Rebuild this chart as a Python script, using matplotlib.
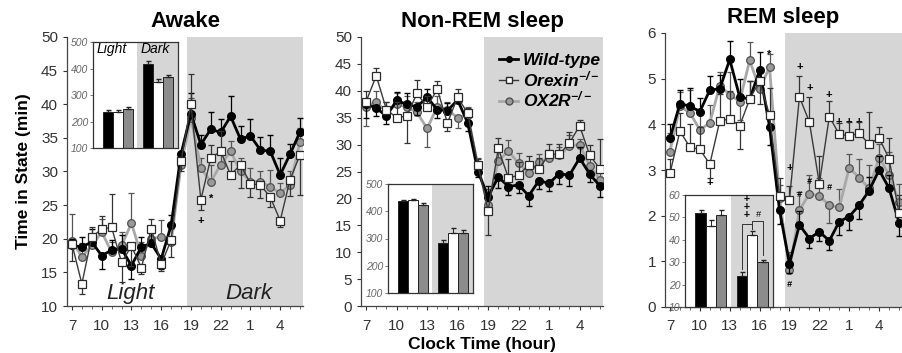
import numpy as np
import matplotlib.pyplot as plt
from matplotlib.lines import Line2D

plt.rcParams['font.family'] = ['Liberation Sans', 'DejaVu Sans']
plt.rcParams['mathtext.fontset'] = 'custom'
plt.rcParams['mathtext.rm'] = 'Liberation Sans:bold:italic'
plt.rcParams['mathtext.it'] = 'Liberation Sans:bold:italic'

# ================= DATA ================= #
HOURS = [7, 8, 9, 10, 11, 12, 13, 14, 15, 16, 17, 18, 19, 20, 21, 22, 23, 0, 1, 2, 3, 4, 5, 6]
TICK_HOURS = [7, 10, 13, 16, 19, 22, 1, 4]

# Awake (min per hour); error sign: + = bar drawn up, - = bar drawn down
awake_wt = [19.0, 18.8, 19.5, 17.5, 18.3, 18.5, 16.0, 18.8, 19.3, 17.0, 22.0, 32.6,
            38.6, 34.0, 36.3, 35.8, 38.2, 34.8, 35.3, 33.2, 33.0, 29.5, 32.6, 35.9]
awake_wt_err = [1, 1.5, 2, -2, 1.5, 2, -2, 1.5, 1.5, -1.5, 1.5, -1,
                3, 1.5, 2.5, 2, 3, 2, 2.5, 2, 2.5, 2.5, 1.5, 2]
awake_ox = [19.2, 13.3, 20.3, 21.4, 21.7, 16.5, 18.9, 15.7, 21.5, 16.2, 19.8, 31.5,
            40.0, 25.8, 32.0, 33.0, 29.5, 31.0, 28.2, 28.0, 26.2, 22.7, 28.8, 32.5]
awake_ox_err = [-2.5, -1.5, 1.5, 2, 5, -3, -3, -1, 1.5, -1, -2.5, -1.5,
                4.5, -1.5, 2, 3, 2, -3.5, -2, -2, -1.5, -1, -2.5, -6]
awake_ox2r = [19.7, 17.3, 19.0, 21.0, 18.0, 19.0, 22.3, 17.5, 20.0, 20.3, 19.5, 31.0,
              38.0, 30.5, 28.5, 31.0, 33.0, 30.0, 28.5, 28.5, 27.7, 26.8, 28.0, 34.4]
awake_ox2r_err = [4, 2, 1.5, 2, 1.5, 2, 4.5, 2, 1.5, 2.5, 2, 1.5,
                  3, 1.5, 2.5, 2, 1.5, 2, 2, 1.5, 2.5, 1.5, 2, 2]

nrem_wt = [37.5, 36.8, 35.3, 38.2, 37.5, 37.0, 38.8, 36.5, 36.3, 38.3, 34.0, 25.0,
           20.3, 24.0, 22.2, 22.5, 20.5, 23.3, 22.8, 24.6, 24.3, 27.5, 24.5, 22.3]
nrem_wt_err = [-2.5, -1.5, -1.5, 1.5, 2, -1.5, 1.5, -1.5, 1.5, 1, -1.5, -1,
               2, -2, -1.5, -1.5, -2, -1.5, -1.5, -2, -2, 2, -1.5, -2]
nrem_ox = [38.0, 42.8, 36.5, 35.0, 35.3, 39.5, 37.0, 40.3, 34.0, 38.8, 35.8, 26.3,
           17.7, 29.3, 23.8, 24.3, 26.3, 25.5, 28.2, 28.2, 30.3, 33.5, 28.0, 25.5]
nrem_ox_err = [2, 1.5, 1.5, 3, -5, 2.5, 2, 1.5, -1.5, 1.5, 1, 1,
               -4.5, 2, 3.5, 2.5, 1.5, 2, 2, 2, 2, 1, 2, 5.5]
nrem_ox2r = [37.0, 38.0, 36.0, 37.5, 37.0, 36.0, 33.0, 37.0, 36.5, 35.0, 35.5, 26.0,
             18.8, 27.0, 28.8, 26.5, 24.7, 26.8, 27.5, 28.0, 29.8, 30.0, 26.0, 23.5]
nrem_ox2r_err = [-3.5, 2, 2, 2, 2, 2, -3.5, 2, 1.5, -2, 1.5, 1.5,
                 3, 3, 2, 2, 2, 1.5, 1.5, 1.5, 2, 1, 2, 2]

rem_wt = [3.70, 4.45, 4.40, 4.28, 4.75, 4.78, 5.42, 4.60, 4.55, 5.18, 3.95, 2.12,
          0.95, 1.80, 1.50, 1.65, 1.45, 1.87, 1.98, 2.23, 2.55, 3.00, 2.60, 1.85]
rem_wt_err = [0.3, 0.3, 0.4, 0.3, 0.3, 0.3, 0.4, 0.4, 0.4, 0.4, -0.4, -0.3,
              -0.2, 0.3, -0.2, -0.2, -0.2, -0.3, -0.3, -0.3, 0.3, 0.3, 0.3, -0.3]
rem_ox = [2.93, 3.85, 3.50, 3.45, 3.13, 4.07, 4.12, 3.97, 4.55, 4.95, 4.20, 2.43,
          2.35, 4.60, 4.05, 2.70, 4.17, 3.78, 3.75, 3.80, 3.57, 3.70, 3.25, 2.05]
rem_ox_err = [0.3, 0.4, 0.5, 0.5, -0.3, 0.6, 0.6, -0.5, 0.4, -0.5, 0.6, 0.4,
              0.3, 0.45, 0.55, 0.6, 0.35, 0.25, 0.3, 0.25, 0.7, 0.25, 0.45, 0.4]
rem_ox2r = [3.40, 4.40, 4.25, 3.88, 4.03, 4.85, 4.65, 4.50, 5.40, 4.78, 5.25, 2.38,
            0.80, 2.12, 2.48, 2.43, 2.23, 2.18, 3.05, 2.83, 2.60, 3.27, 2.90, 2.30]
rem_ox2r_err = [0.4, 0.3, 0.5, 0.4, 0.4, 0.3, 0.5, -0.4, 0.4, 0.4, 0.3, 0.3,
                0.4, 0.4, 0.4, 0.4, -0.4, 0.4, 0.3, 0.4, 0.5, 0.3, 0.5, 0.4]

# insets: total time (min) in light / dark phase; order WT, Orexin-/-, OX2R-/-
awake_light = [237, 237, 246]
awake_light_err = [5, 5, 7]
awake_dark = [416, 350, 367]
awake_dark_err = [12, 12, 9]
nrem_light = [436, 440, 423]
nrem_light_err = [5, 6, 6]
nrem_dark = [282, 322, 322]
nrem_dark_err = [12, 18, 10]
rem_light = [52, 46, 51]
rem_light_err = [1.5, 3, 2.5]
rem_dark = [24, 42, 30]
rem_dark_err = [1.5, 2, 1]

# significance marks: (index, y, symbol)
awake_marks = [(13, 22.6, '+'), (14, 26.0, '*')]
rem_marks = [(4, 2.72, '+'), (10, 5.52, '*'), (12, 3.05, '+'), (13, 5.25, '+'),
             (14, 4.80, '+'), (16, 4.65, '+'), (17, 4.05, '+'), (18, 4.05, '+'),
             (19, 4.05, '+'), (12, 0.50, '#'), (13, 2.47, '#'), (14, 2.75, '#'),
             (16, 2.62, '#')]

# ================= STYLE ================= #
SHADE = '#d6d6d6'
W, H = 902, 353
x = np.arange(len(HOURS))


def px(l, t, r, b):
    return [l / W, 1 - b / H, (r - l) / W, (b - t) / H]


def split_err(err):
    err = np.array(err, dtype=float)
    return [np.where(err < 0, -err, 0), np.where(err > 0, err, 0)]


def draw_series(ax, wt, wte, ox, oxe, o2, o2e, cap):
    ax.errorbar(x, o2, yerr=split_err(o2e), color='#a8a8a8', lw=2.0, marker='o',
                ms=5.5, mfc='#9a9a9a', mec='#505050', mew=0.9, ecolor='#555555',
                elinewidth=0.9, capsize=cap, zorder=3)
    ax.errorbar(x, wt, yerr=split_err(wte), color='black', lw=2.0, marker='o',
                ms=5.5, mfc='black', mec='black', ecolor='black',
                elinewidth=0.9, capsize=cap, zorder=4)
    ax.errorbar(x, ox, yerr=split_err(oxe), color='#3a3a3a', lw=1.0, marker='s',
                ms=5.5, mfc='white', mec='#2a2a2a', mew=0.9, ecolor='#333333',
                elinewidth=0.9, capsize=cap, zorder=5)


def style_main(ax, ylim, yticks):
    ax.axvspan(11.6, 30, color=SHADE, lw=0, zorder=0)
    ax.set_xlim(-0.5, 23.3)
    ax.set_ylim(*ylim)
    ax.set_yticks(yticks)
    ticks = [i for i, h in enumerate(HOURS) if h in TICK_HOURS]
    ax.set_xticks(ticks)
    ax.set_xticklabels([str(HOURS[i]) for i in ticks])
    ax.set_xticks(x, minor=True)
    ax.tick_params(axis='both', labelsize=11, colors='#333333', length=3, width=0.8)
    ax.tick_params(axis='x', which='minor', length=2, width=0.6, colors='#555555')
    ax.tick_params(axis='x', pad=6)
    for s in ['top', 'right']:
        ax.spines[s].set_visible(False)
    for s in ['left', 'bottom']:
        ax.spines[s].set_color('#444444')
        ax.spines[s].set_linewidth(0.9)


def draw_inset(rect, light, lerr, dark, derr, ylim, yticks):
    ia = fig.add_axes(rect)
    ia.set_facecolor('white')
    ia.axvspan(4.4, 10, color=SHADE, lw=0, zorder=0)
    cols = ['black', 'white', '#8c8c8c']
    for j in range(3):
        ia.bar(1.5 + j, light[j], 1.0, bottom=0, color=cols[j], edgecolor='#222222',
               lw=0.7, zorder=2)
        ia.bar(5.5 + j, dark[j], 1.0, bottom=0, color=cols[j], edgecolor='#222222',
               lw=0.7, zorder=2)
        ia.errorbar(1.5 + j, light[j], yerr=[[0], [lerr[j]]], color='#222222',
                    elinewidth=0.7, capsize=1.8, zorder=3)
        ia.errorbar(5.5 + j, dark[j], yerr=[[0], [derr[j]]], color='#222222',
                    elinewidth=0.7, capsize=1.8, zorder=3)
    ia.set_xlim(0, 8.5)
    ia.set_ylim(*ylim)
    ia.set_yticks(yticks)
    ia.set_xticks([])
    ia.tick_params(axis='y', labelsize=7.5, colors='#666666', length=2, width=0.6, pad=1.5)
    for lab in ia.get_yticklabels():
        lab.set_fontstyle('italic')
    for s in ia.spines.values():
        s.set_color('#333333')
        s.set_linewidth(0.9)
    return ia


# ================= FIGURE ================= #
fig = plt.figure(figsize=(W / 100, H / 100), dpi=100)

ax1 = fig.add_axes(px(67, 37, 303, 306))
ax2 = fig.add_axes(px(361, 37, 603, 306))
ax3 = fig.add_axes(px(665, 33, 902, 307))

style_main(ax1, (10, 50), range(10, 51, 5))
style_main(ax2, (0, 50), range(0, 51, 5))
style_main(ax3, (0, 6), range(0, 7))

draw_series(ax1, awake_wt, awake_wt_err, awake_ox, awake_ox_err, awake_ox2r, awake_ox2r_err, 2.5)
draw_series(ax2, nrem_wt, nrem_wt_err, nrem_ox, nrem_ox_err, nrem_ox2r, nrem_ox2r_err, 2.5)
draw_series(ax3, rem_wt, rem_wt_err, rem_ox, rem_ox_err, rem_ox2r, rem_ox2r_err, 2.5)

for ax, title in [(ax1, 'Awake'), (ax2, 'Non-REM sleep'), (ax3, 'REM sleep')]:
    ax.set_title(title, fontsize=16, fontweight='bold', pad=7)

ax1.set_ylabel('Time in State (min)', fontsize=12.5, fontweight='bold', labelpad=7)
ax2.set_xlabel('Clock Time (hour)', fontsize=12.5, fontweight='bold', labelpad=3)

ax1.text(3.5, 11.0, 'Light', fontsize=16, fontstyle='italic', color='#222222')
ax1.text(15.5, 11.0, 'Dark', fontsize=16, fontstyle='italic', color='#222222')

for i, yv, s in awake_marks:
    ax1.text(i, yv, s, ha='center', va='center', fontsize=8, fontweight='bold')
for i, yv, s in rem_marks:
    ax3.text(i, yv, s, ha='center', va='center', fontsize=8 if s != '#' else 6.5,
             fontweight='bold', fontstyle='italic' if s == '#' else 'normal')

# legend
handles = [
    Line2D([], [], color='black', lw=2.0, marker='o', ms=4, mfc='black'),
    Line2D([], [], color='#3a3a3a', lw=1.0, marker='s', ms=5, mfc='white', mec='#2a2a2a'),
    Line2D([], [], color='#a8a8a8', lw=2.0, marker='o', ms=5, mfc='#9a9a9a', mec='#505050'),
]
labels = ['Wild-type', 'Orexin$^{-/-}$', 'OX2R$^{-/-}$']
leg = ax2.legend(handles, labels, loc='upper right', bbox_to_anchor=(1.04, 0.985),
                 frameon=False, fontsize=12.5, handlelength=1.1, handletextpad=0.25,
                 labelspacing=0.05, borderaxespad=0.3)
for t in leg.get_texts():
    t.set_fontstyle('italic')
    t.set_fontweight('bold')

# insets
ia1 = draw_inset(px(93, 42, 178, 148), awake_light, awake_light_err,
                 awake_dark, awake_dark_err, (100, 500), range(100, 501, 100))
ia1.text(0.35, 475, 'Light', fontsize=10, fontstyle='italic', va='center')
ia1.text(4.75, 475, 'Dark', fontsize=10, fontstyle='italic', va='center')
draw_inset(px(388, 184, 473, 293), nrem_light, nrem_light_err,
           nrem_dark, nrem_dark_err, (100, 500), range(100, 501, 100))
ia3 = draw_inset(px(685, 195, 773, 307), rem_light, rem_light_err,
                 rem_dark, rem_dark_err, (10, 60), range(10, 61, 10))
# comparison brackets in the REM inset
ia3.plot([5.5, 5.5, 6.5, 6.5], [27, 47, 47, 45], color='#333333', lw=0.7, zorder=4)
ia3.plot([6.5, 6.5, 7.5, 7.5], [45, 48.5, 48.5, 33], color='#333333', lw=0.7, zorder=4)
ia3.text(6.0, 54.5, '+\n+\n+', ha='center', va='center', fontsize=7.5,
         fontweight='bold', linespacing=0.75)
ia3.text(7.1, 51.5, '#', ha='center', va='center', fontsize=6.5, fontstyle='italic')

plt.savefig('out.png', dpi=100)
